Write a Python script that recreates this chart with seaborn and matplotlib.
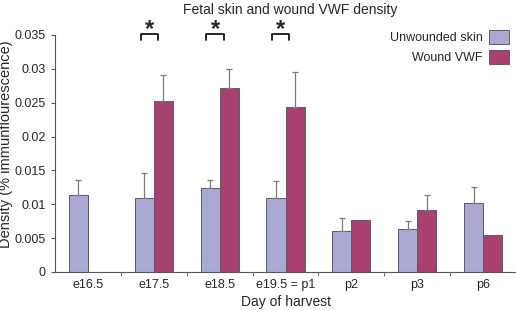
import seaborn as sns
import pandas as pd
import numpy as np
import matplotlib.pyplot as plt
from matplotlib.ticker import FixedLocator

days = ["e16.5", "e17.5", "e18.5", "e19.5 = p1", "p2", "p3", "p6"]
unwounded = [0.0113, 0.0109, 0.0124, 0.0110, 0.0061, 0.0064, 0.0102]
unwounded_err = [0.0023, 0.0037, 0.0012, 0.0024, 0.0019, 0.0012, 0.0023]
wound = [np.nan, 0.0252, 0.0271, 0.0244, 0.0077, 0.0091, 0.0055]
wound_err = [np.nan, 0.0039, 0.0029, 0.0051, 0.0, 0.0023, 0.0]
significant = ["e17.5", "e18.5", "e19.5 = p1"]
groups = ["Unwounded skin", "Wound VWF"]
colors = ["#a9a9d3", "#a8416f"]

sns.set_style("white")
plt.rcParams['font.family'] = ['Liberation Sans', 'DejaVu Sans']

df = pd.DataFrame({
    "day": days * 2,
    "group": [groups[0]] * len(days) + [groups[1]] * len(days),
    "value": unwounded + wound,
})

fig = plt.figure(figsize=(5.16, 3.10), dpi=100)
ax = fig.add_axes([0.1066, 0.1226, 0.8934, 0.7645])
sns.barplot(df, x="day", y="value", hue="group", palette=colors, order=days,
            hue_order=groups, width=0.58, errorbar=None, edgecolor="#5a5a6a",
            linewidth=0.7, saturation=1, ax=ax)

# upper-only error bars, placed on the bars seaborn drew
for cont, errs in zip(ax.containers, [unwounded_err, wound_err]):
    for bar in cont:
        h = bar.get_height()
        xc = bar.get_x() + bar.get_width() / 2
        e = errs[int(round(xc))]
        if np.isnan(h) or np.isnan(e) or e <= 0:
            continue
        ax.errorbar(xc, h, yerr=[[0], [e]], fmt="none", ecolor="#7a7a7a",
                    elinewidth=0.9, capsize=2, capthick=0.9, zorder=1)

# significance brackets
for d in significant:
    i = days.index(d)
    x0, x1 = i - 0.2, i + 0.06
    ax.plot([x0, x0, x1, x1], [0.0343, 0.0351, 0.0351, 0.0343], color="black",
            lw=1.2, clip_on=False)
    ax.text((x0 + x1) / 2, 0.0348, "*", ha="center", va="baseline", fontsize=17,
            fontweight="bold", clip_on=False)

ax.set_ylim(0, 0.035)
ax.set_xlim(-0.5, len(days) - 0.5)
ax.set_yticks(np.arange(0, 0.0351, 0.005))
ax.set_yticklabels(["0", "0.005", "0.01", "0.015", "0.02", "0.025", "0.03", "0.035"])
ax.xaxis.set_minor_locator(FixedLocator(np.arange(0.5, len(days) - 0.5, 1)))
ax.tick_params(axis="x", which="major", length=0, labelsize=9, pad=5)
ax.tick_params(axis="x", which="minor", length=3, color="#555555", bottom=True)
ax.tick_params(axis="y", length=3, labelsize=9, left=True, color="#555555")
sns.despine(ax=ax)
ax.spines["left"].set_color("#555555")
ax.spines["bottom"].set_color("#555555")

ax.set_xlabel("Day of harvest", fontsize=10, labelpad=3)
ax.set_ylabel("Density (% immunflourescence)", fontsize=10.5)
ax.yaxis.set_label_coords(-0.092, 0.538)
fig.text(0.562, 0.99, "Fetal skin and wound VWF density", ha="center", va="top",
         fontsize=10)

ax.legend(loc="upper right", bbox_to_anchor=(0.985, 1.02), frameon=False, fontsize=9,
          markerfirst=False, handlelength=1.6, handleheight=1.35, labelspacing=0.45,
          borderaxespad=0, borderpad=0, handletextpad=0.5)

fig.savefig("out.png", dpi=100)
